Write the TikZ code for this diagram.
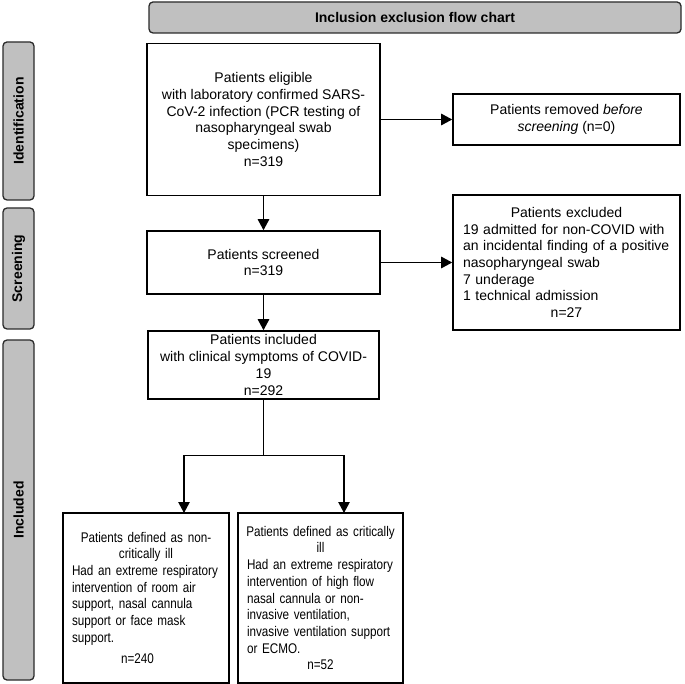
\documentclass[tikz,border=0pt]{standalone}
\usepackage{fontspec}
\setmainfont{Liberation Sans}
\newfontfamily\narrowfont[FakeStretch=0.835]{Liberation Sans}
\usepackage{tikz}
\usetikzlibrary{arrows.meta,calc}
\definecolor{panel}{HTML}{C0C0C0}
\definecolor{edge}{HTML}{2A2A2A}
\newcommand{\midline}[1]{\makebox[\hsize][c]{#1}}
\tikzset{
  box/.style={draw=black, line width=1.6pt, fill=white, align=center, inner sep=0pt,
    font=\fontsize{14}{16.7}\selectfont},
  listbox/.style={box, align=left, inner ysep=0pt},
  narrowbox/.style={listbox, font=\narrowfont\fontsize{14}{16.7}\selectfont},
  phase/.style={draw=edge, line width=1.3pt, fill=panel, rounded corners=4pt, inner sep=0pt,
    font=\bfseries\fontsize{14}{16}\selectfont},
  link/.style={line width=1.1pt},
  flow/.style={line width=1.1pt, -{Triangle[length=11pt,width=11.5pt]}}
}

\begin{document}
\begin{tikzpicture}[x=1pt,y=-1pt]
\useasboundingbox (0,0) rectangle (685,684);

% stage labels
\node[phase, minimum width=532, minimum height=31] (title) at (415,17.5) {Inclusion exclusion flow chart};
\node[phase, rotate=90, minimum width=158, minimum height=31] (idlab) at (18.5,121) {Identification};
\node[phase, rotate=90, minimum width=121, minimum height=31] (scrlab) at (18.5,268.5) {Screening};
\node[phase, rotate=90, minimum width=340, minimum height=31] (inclab) at (18.5,510) {Included};

% main column
\node[box, minimum width=233, minimum height=152] (elig) at (263.5,119.5)
  {Patients eligible\\ with laboratory confirmed SARS-\\CoV-2 infection (PCR testing of\\nasopharyngeal swab\\specimens)\\n=319};
\node[box, minimum width=233, minimum height=63] (screened) at (263.5,262.5)
  {Patients screened\\n=319};
\node[box, minimum width=231, minimum height=68] (included) at (263.5,365)
  {Patients included\\ with clinical symptoms of COVID-\\19\\n=292};

% side column
\node[box, minimum width=227, minimum height=51] (removed) at (566.5,119.5)
  {Patients removed \textit{before}\\\textit{screening} (n=0)};
\node[listbox, text width=207, inner xsep=10, minimum height=135] (excluded) at (566.5,262.5)
  {\midline{Patients excluded}\\
   19 admitted for non-COVID with\\
   an incidental finding of a positive\\
   nasopharyngeal swab\\
   7 underage\\
   1 technical admission\\
   \midline{n=27}};

% outcome boxes
\node[narrowbox, text width=148, inner xsep=9, minimum height=170] (noncrit) at (146,598)
  {\midline{Patients defined as non-}\\
   \midline{critically ill}\\
   Had an extreme respiratory\\
   intervention of room air\\
   support, nasal cannula\\
   support or face mask\\
   support.\\[5pt]
   \midline{n=240\hspace{17pt}}};
\node[narrowbox, text width=147, inner xsep=9, minimum height=170] (crit) at (320.5,598)
  {\midline{Patients defined as critically}\\
   \midline{ill}\\
   Had an extreme respiratory\\
   intervention of high flow\\
   nasal cannula or non-\\
   invasive ventilation,\\
   invasive ventilation support\\
   or ECMO.\\
   \midline{n=52}};

\coordinate (split) at (263.5,455.5);
\coordinate (leftdrop) at (184,513);
\coordinate (rightdrop) at (344,513);

\draw[flow] (elig) -- (screened);
\draw[flow] (screened) -- (included);
\draw[flow] (elig.east) -- (removed.west);
\draw[flow] (screened.east) -- (excluded.west);
\draw[link] (included.south) -- (split);
\draw[flow] (split) -| (leftdrop);
\draw[flow] (split) -| (rightdrop);
\end{tikzpicture}
\end{document}
